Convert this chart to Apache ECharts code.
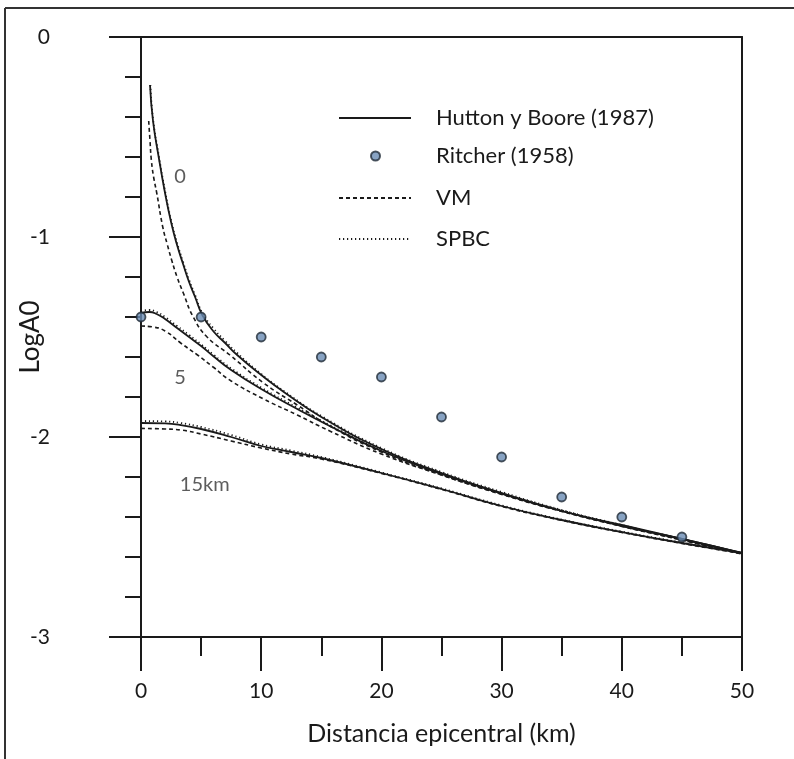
<!DOCTYPE html>
<html>
<head>
<meta charset="utf-8">
<script src="https://cdn.jsdelivr.net/npm/echarts@6/dist/echarts.min.js"></script>
<style>
html,body{margin:0;padding:0;background:#fff;}
#chart{width:794px;height:759px;}
</style>
</head>
<body>
<div id="chart"></div>
<script>
// ---- data ----
const xTicks = [0, 10, 20, 30, 40, 50];
const yTicks = [0, -1, -2, -3];

// Ritcher (1958) points
const ritcherX = [0, 5, 10, 15, 20, 25, 30, 35, 40, 45];
const ritcherY = [-1.4, -1.4, -1.5, -1.6, -1.7, -1.9, -2.1, -2.3, -2.4, -2.5];

// Hutton y Boore (1987): depth 0, 5, 15 km
const hb0 = [[0.75,-0.24],[1.0,-0.42],[1.5,-0.61],[2.0,-0.78],[2.5,-0.925],[3.0,-1.04],[3.5,-1.135],[4.0,-1.225],[4.5,-1.30],[5.1,-1.39],[6,-1.47],[7,-1.53],[8,-1.59],[10,-1.69],[12,-1.78],[15,-1.90],[20,-2.06],[25,-2.18],[30,-2.28],[35,-2.37],[40,-2.44],[45,-2.51],[50,-2.58]];
const hb5 = [[0,-1.38],[0.7,-1.375],[1.3,-1.385],[2,-1.41],[3,-1.455],[4,-1.50],[5,-1.545],[6,-1.595],[7.5,-1.665],[10,-1.76],[13,-1.86],[15.7,-1.945],[20,-2.07],[25,-2.185],[30,-2.283],[35,-2.37],[40,-2.445],[45,-2.51],[50,-2.58]];
const hb15 = [[0,-1.93],[2,-1.932],[3.3,-1.94],[5,-1.96],[7.5,-2.0],[10,-2.045],[12.5,-2.075],[15,-2.105],[20,-2.18],[25,-2.26],[30,-2.345],[35,-2.415],[40,-2.475],[45,-2.53],[50,-2.58]];

// VM
const vm0 = [[0.64,-0.42],[0.75,-0.52],[0.86,-0.615],[1.05,-0.70],[1.31,-0.78],[1.81,-0.95],[2.2,-1.04],[2.55,-1.115],[3.0,-1.20],[3.52,-1.28],[4.35,-1.40],[5.5,-1.50],[7.4,-1.59],[10.2,-1.73],[13,-1.84],[15.7,-1.945],[20,-2.075],[25,-2.19],[30,-2.285],[35,-2.37],[40,-2.445],[45,-2.515],[50,-2.585]];
const vm5 = [[0,-1.445],[1,-1.45],[2,-1.47],[3.3,-1.53],[4.7,-1.59],[6,-1.65],[7.5,-1.72],[10.2,-1.81],[13,-1.89],[15.7,-1.97],[20,-2.085],[25,-2.19],[30,-2.287],[35,-2.372],[40,-2.447],[45,-2.515],[50,-2.585]];
const vm15 = [[0,-1.957],[2,-1.96],[3.3,-1.965],[5,-1.985],[7.5,-2.02],[10,-2.055],[12.5,-2.085],[15,-2.11],[20,-2.182],[25,-2.262],[30,-2.347],[35,-2.417],[40,-2.477],[45,-2.532],[50,-2.583]];

// SPBC
const spbc0 = [[0.78,-0.24],[1.0,-0.41],[1.5,-0.60],[2.0,-0.77],[2.5,-0.915],[3.0,-1.03],[3.5,-1.125],[4.0,-1.215],[4.5,-1.29],[5.1,-1.38],[6,-1.455],[7,-1.52],[8,-1.58],[10,-1.685],[12,-1.775],[15,-1.895],[20,-2.055],[25,-2.175],[30,-2.275],[35,-2.365],[40,-2.44],[45,-2.51],[50,-2.58]];
const spbc5 = [[0,-1.37],[0.7,-1.365],[1.3,-1.375],[2,-1.40],[3,-1.445],[4,-1.49],[5,-1.537],[6,-1.587],[7.5,-1.657],[10,-1.753],[13,-1.853],[15.7,-1.94],[20,-2.065],[25,-2.18],[30,-2.28],[35,-2.367],[40,-2.443],[45,-2.51],[50,-2.58]];
const spbc15 = [[0,-1.92],[2,-1.922],[3.3,-1.93],[5,-1.95],[7.5,-1.99],[10,-2.037],[12.5,-2.068],[15,-2.10],[20,-2.177],[25,-2.257],[30,-2.342],[35,-2.413],[40,-2.473],[45,-2.528],[50,-2.58]];

// curve annotations
const annText = ['0', '5', '15km'];
const annX = [3.25, 3.25, 5.3];
const annY = [-0.70, -1.705, -2.24];

const names = ['Hutton y Boore (1987)', 'Ritcher (1958)', 'VM', 'SPBC'];

// ---- chart ----
const FONT = 'Lato, "Open Sans", sans-serif';
const INK = '#1a1a1a';
const chart = echarts.init(document.getElementById('chart'), null, {renderer: 'canvas'});

function lineSeries(name, data, type, width, z) {
  return {
    name: name, type: 'line', data: data, symbol: 'none', smooth: 0.5,
    lineStyle: {color: INK, width: width, type: type}, z: z, silent: true, animation: false
  };
}
const legendText = {fontSize: 22, color: INK, fontFamily: FONT, padding: [0, 0, 0, 20]};
const lineLegend = (name, top) => ({
  data: [name], left: 338, top: top, padding: 0, orient: 'vertical', itemWidth: 72, itemHeight: 14,
  itemStyle: {opacity: 0}, textStyle: legendText, selectedMode: false
});

const option = {
  backgroundColor: '#fff',
  animation: false,
  grid: {left: 141, right: 52, top: 37, bottom: 122, containLabel: false, outerBoundsMode: 'none'},
  xAxis: [{
    type: 'value', min: 0, max: 50, interval: 10, position: 'bottom',
    name: 'Distancia epicentral (km)', nameLocation: 'middle', nameGap: 84, nameMoveOverlap: false,
    nameTextStyle: {fontSize: 25, color: INK, fontFamily: FONT},
    axisLine: {show: true, onZero: false, lineStyle: {color: INK, width: 2}},
    axisTick: {show: true, length: 34, lineStyle: {color: INK, width: 2}},
    minorTick: {show: true, splitNumber: 2, length: 19, lineStyle: {color: INK, width: 2}},
    axisLabel: {margin: 44, fontSize: 21, color: INK, fontFamily: FONT,
      formatter: v => xTicks.includes(v) ? String(v) : ''},
    splitLine: {show: false}
  }, {
    type: 'value', min: 0, max: 50, position: 'top',
    axisLine: {show: true, onZero: false, lineStyle: {color: INK, width: 2}},
    axisTick: {show: false}, axisLabel: {show: false}, splitLine: {show: false}
  }],
  yAxis: [{
    type: 'value', min: -3, max: 0, interval: 1, position: 'left',
    name: 'LogA0', nameLocation: 'middle', nameGap: 97, nameRotate: 90, nameMoveOverlap: false,
    nameTextStyle: {fontSize: 26, color: INK, fontFamily: FONT},
    axisLine: {show: true, onZero: false, lineStyle: {color: INK, width: 2}},
    axisTick: {show: true, length: 32, lineStyle: {color: INK, width: 2}},
    minorTick: {show: true, splitNumber: 5, length: 16, lineStyle: {color: INK, width: 2}},
    axisLabel: {margin: 91, fontSize: 21, color: INK, fontFamily: FONT,
      formatter: v => yTicks.includes(v) ? String(v) : ''},
    splitLine: {show: false}
  }, {
    type: 'value', min: -3, max: 0, position: 'right',
    axisLine: {show: true, onZero: false, lineStyle: {color: INK, width: 2}},
    axisTick: {show: false}, axisLabel: {show: false}, splitLine: {show: false}
  }],
  legend: [
    lineLegend(names[0], 107),
    {data: [names[1]], left: 370, top: 145, padding: 0, orient: 'vertical', itemWidth: 9, itemHeight: 9,
      textStyle: Object.assign({}, legendText, {padding: [0, 0, 0, 51]}), selectedMode: false},
    lineLegend(names[2], 187),
    lineLegend(names[3], 228)
  ],
  graphic: [
    {type: 'line', shape: {x1: 5, y1: 8, x2: 5, y2: 759}, style: {stroke: '#333', lineWidth: 2}},
    {type: 'line', shape: {x1: 5, y1: 8, x2: 794, y2: 8}, style: {stroke: '#333', lineWidth: 2}}
  ],
  series: [
    lineSeries(names[2], vm0, [4, 3], 1.6, 2),
    lineSeries(names[2], vm5, [4, 3], 1.6, 2),
    lineSeries(names[2], vm15, [4, 3], 1.6, 2),
    lineSeries(names[3], spbc0, [1.2, 2.8], 1.8, 3),
    lineSeries(names[3], spbc5, [1.2, 2.8], 1.8, 3),
    lineSeries(names[3], spbc15, [1.2, 2.8], 1.8, 3),
    lineSeries(names[0], hb0, 'solid', 1.8, 4),
    lineSeries(names[0], hb5, 'solid', 1.8, 4),
    lineSeries(names[0], hb15, 'solid', 1.8, 4),
    {
      name: names[1], type: 'scatter', symbol: 'circle', symbolSize: 9, z: 6,
      data: ritcherX.map((x, i) => [x, ritcherY[i]]),
      itemStyle: {color: '#6a8cb4', borderColor: '#1f2a36', borderWidth: 1.8},
      silent: true
    },
    {
      name: 'labels', type: 'scatter', symbolSize: 0, z: 7, silent: true,
      data: annText.map((t, i) => ({name: t, value: [annX[i], annY[i]]})),
      label: {show: true, position: 'inside', formatter: p => p.name,
        fontSize: 20, color: '#333', fontFamily: FONT}
    }
  ]
};
chart.setOption(option);
</script>
</body>
</html>
